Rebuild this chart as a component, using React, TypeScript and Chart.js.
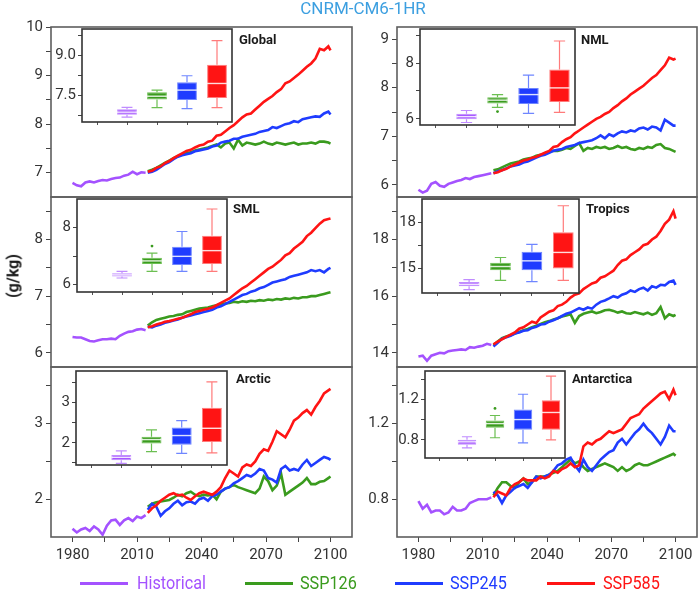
import React, { useEffect, useRef } from 'react';
import { Chart, registerables } from 'chart.js';
Chart.register(...registerables);

// ---------- categories / ticks ----------
const HIST_YEARS = [1980, 1982, 1984, 1986, 1988, 1990, 1992, 1994, 1996, 1998, 2000, 2002, 2004, 2006, 2008, 2010, 2012, 2014];
const SSP_YEARS = [2015, 2017, 2019, 2021, 2023, 2025, 2027, 2029, 2031, 2033, 2035, 2037, 2039, 2041, 2043, 2045, 2047, 2049, 2051, 2053, 2055, 2057, 2059, 2061, 2063, 2065, 2067, 2069, 2071, 2073, 2075, 2077, 2079, 2081, 2083, 2085, 2087, 2089, 2091, 2093, 2095, 2097, 2099, 2100];
const X_TICKS = [1980, 1995, 2010, 2025, 2040, 2055, 2070, 2085, 2100];
const X_LABELS = [1980, 2010, 2040, 2070, 2100];
const SERIES_NAMES = ['Historical', 'SSP126', 'SSP245', 'SSP585'];
const BOX_X = [1.5, 2.5, 3.5, 4.5];
const INSET_X_TICKS = [0.5, 1.5, 2.5, 3.5, 4.5];

// ---------- Global ----------
const GLOBAL_HIST = [6.79, 6.74, 6.72, 6.80, 6.82, 6.80, 6.83, 6.85, 6.84, 6.87, 6.89, 6.90, 6.94, 6.96, 7.02, 6.97, 7.01, 7.00];
const GLOBAL_126 = [7.03, 7.06, 7.10, 7.15, 7.20, 7.25, 7.30, 7.34, 7.38, 7.40, 7.42, 7.46, 7.48, 7.50, 7.52, 7.55, 7.58, 7.52, 7.60, 7.62, 7.50, 7.68, 7.56, 7.62, 7.60, 7.58, 7.60, 7.64, 7.60, 7.58, 7.62, 7.60, 7.58, 7.60, 7.62, 7.58, 7.60, 7.60, 7.62, 7.60, 7.64, 7.64, 7.62, 7.60];
const GLOBAL_245 = [7.00, 7.02, 7.06, 7.12, 7.18, 7.22, 7.28, 7.33, 7.36, 7.38, 7.40, 7.44, 7.46, 7.48, 7.50, 7.54, 7.56, 7.62, 7.64, 7.66, 7.70, 7.70, 7.74, 7.76, 7.78, 7.80, 7.84, 7.86, 7.88, 7.94, 7.92, 7.96, 8.00, 8.02, 8.06, 8.04, 8.10, 8.12, 8.14, 8.16, 8.15, 8.22, 8.26, 8.20];
const GLOBAL_585 = [7.02, 7.04, 7.10, 7.13, 7.20, 7.24, 7.30, 7.35, 7.40, 7.45, 7.47, 7.52, 7.56, 7.58, 7.64, 7.66, 7.76, 7.78, 7.85, 7.92, 7.98, 8.06, 8.14, 8.20, 8.22, 8.30, 8.38, 8.46, 8.52, 8.58, 8.66, 8.72, 8.84, 8.88, 8.95, 9.02, 9.10, 9.18, 9.25, 9.35, 9.55, 9.52, 9.60, 9.52];
const GLOBAL_BOX = [[6.68, 6.77, 6.87, 6.98, 7.05], [7.04, 7.35, 7.47, 7.62, 7.70], [7.00, 7.33, 7.70, 8.00, 8.24], [7.04, 7.40, 7.95, 8.65, 9.56]];
const GLOBAL_OUTLIERS: number[][] = [];
const GLOBAL_Y_TICKS = [7, 7.5, 8, 8.5, 9, 9.5, 10];
const GLOBAL_Y_LABELS = [7, 8, 9, 10];
const GLOBAL_INSET_TICKS = [6.75, 7.5, 8.25, 9.0, 9.75];
const GLOBAL_INSET_LABELS = [7.5, 9.0];

// ---------- NML ----------
const NML_HIST = [5.90, 5.84, 5.88, 6.02, 6.06, 5.98, 5.96, 6.02, 6.05, 6.08, 6.10, 6.14, 6.12, 6.16, 6.18, 6.20, 6.22, 6.24];
const NML_126 = [6.30, 6.32, 6.36, 6.40, 6.44, 6.46, 6.48, 6.52, 6.54, 6.56, 6.60, 6.62, 6.64, 6.68, 6.70, 6.70, 6.72, 6.76, 6.74, 6.80, 6.86, 6.70, 6.76, 6.74, 6.78, 6.76, 6.78, 6.74, 6.76, 6.80, 6.76, 6.78, 6.74, 6.72, 6.76, 6.74, 6.78, 6.76, 6.82, 6.84, 6.76, 6.74, 6.70, 6.68];
const NML_245 = [6.24, 6.28, 6.30, 6.34, 6.38, 6.40, 6.42, 6.46, 6.48, 6.52, 6.56, 6.60, 6.62, 6.66, 6.70, 6.72, 6.74, 6.78, 6.80, 6.82, 6.86, 6.88, 6.90, 6.92, 6.96, 7.02, 6.96, 7.04, 7.00, 7.06, 7.10, 7.08, 7.12, 7.10, 7.16, 7.18, 7.14, 7.20, 7.18, 7.12, 7.34, 7.28, 7.22, 7.22];
const NML_585 = [6.24, 6.26, 6.30, 6.33, 6.38, 6.42, 6.46, 6.50, 6.52, 6.56, 6.58, 6.62, 6.66, 6.70, 6.78, 6.80, 6.88, 6.94, 6.98, 7.06, 7.12, 7.18, 7.24, 7.30, 7.36, 7.40, 7.46, 7.50, 7.58, 7.64, 7.72, 7.78, 7.86, 7.92, 7.98, 8.04, 8.12, 8.20, 8.26, 8.36, 8.46, 8.62, 8.58, 8.60];
const NML_BOX = [[5.87, 5.99, 6.08, 6.18, 6.30], [6.41, 6.55, 6.67, 6.77, 6.87], [6.20, 6.53, 6.87, 7.11, 7.57], [6.23, 6.60, 7.11, 7.77, 8.79]];
const NML_OUTLIERS = [[1, 6.26]];
const NML_Y_TICKS = [6, 6.5, 7, 7.5, 8, 8.5, 9];
const NML_Y_LABELS = [6, 7, 8, 9];
const NML_INSET_TICKS = [6, 7, 8, 9];
const NML_INSET_LABELS = [6, 8];

// ---------- SML ----------
const SML_HIST = [6.28, 6.27, 6.27, 6.24, 6.21, 6.20, 6.22, 6.24, 6.24, 6.25, 6.24, 6.30, 6.34, 6.37, 6.38, 6.41, 6.42, 6.40];
const SML_126 = [6.48, 6.54, 6.58, 6.60, 6.62, 6.64, 6.65, 6.67, 6.68, 6.72, 6.74, 6.76, 6.78, 6.79, 6.80, 6.82, 6.84, 6.86, 6.87, 6.88, 6.90, 6.89, 6.91, 6.90, 6.92, 6.91, 6.93, 6.92, 6.94, 6.93, 6.95, 6.94, 6.96, 6.95, 6.97, 6.96, 6.98, 6.98, 7.00, 7.00, 7.02, 7.04, 7.06, 7.07];
const SML_245 = [6.46, 6.45, 6.48, 6.50, 6.53, 6.55, 6.57, 6.59, 6.62, 6.64, 6.66, 6.68, 6.70, 6.72, 6.74, 6.76, 6.80, 6.82, 6.86, 6.90, 6.94, 6.98, 7.02, 7.04, 7.08, 7.10, 7.14, 7.16, 7.20, 7.24, 7.26, 7.28, 7.30, 7.34, 7.36, 7.38, 7.40, 7.42, 7.46, 7.44, 7.46, 7.42, 7.48, 7.50];
const SML_585 = [6.45, 6.47, 6.50, 6.52, 6.55, 6.56, 6.58, 6.60, 6.62, 6.65, 6.68, 6.72, 6.74, 6.76, 6.78, 6.80, 6.84, 6.88, 6.92, 6.96, 7.02, 7.08, 7.14, 7.18, 7.24, 7.30, 7.36, 7.42, 7.48, 7.52, 7.58, 7.64, 7.72, 7.76, 7.84, 7.90, 7.96, 8.06, 8.12, 8.20, 8.28, 8.34, 8.36, 8.37];
const SML_BOX = [[6.23, 6.28, 6.34, 6.40, 6.46], [6.46, 6.72, 6.83, 6.94, 7.10], [6.46, 6.69, 6.99, 7.33, 7.86], [6.46, 6.72, 7.19, 7.71, 8.65]];
const SML_OUTLIERS = [[1, 7.35]];
const SML_Y_TICKS = [6, 6.5, 7, 7.5, 8, 8.5];
const SML_Y_LABELS = [6, 7, 8];
const SML_INSET_TICKS = [6, 7, 8];
const SML_INSET_LABELS = [6, 8];

// ---------- Tropics ----------
const TROP_HIST = [13.87, 13.90, 13.72, 13.90, 13.95, 14.00, 13.98, 14.06, 14.08, 14.10, 14.12, 14.10, 14.20, 14.18, 14.22, 14.25, 14.32, 14.28];
const TROP_126 = [14.28, 14.40, 14.52, 14.58, 14.62, 14.68, 14.74, 14.80, 14.84, 14.90, 14.96, 15.02, 15.08, 15.12, 15.18, 15.22, 15.28, 15.32, 15.36, 15.06, 15.30, 15.38, 15.42, 15.46, 15.40, 15.44, 15.50, 15.52, 15.48, 15.42, 15.46, 15.40, 15.38, 15.44, 15.40, 15.36, 15.42, 15.34, 15.40, 15.62, 15.22, 15.36, 15.30, 15.34];
const TROP_245 = [14.22, 14.35, 14.50, 14.55, 14.60, 14.68, 14.72, 14.78, 14.80, 14.88, 14.92, 15.00, 15.02, 15.10, 15.15, 15.22, 15.30, 15.38, 15.42, 15.50, 15.58, 15.52, 15.60, 15.56, 15.70, 15.80, 15.85, 15.92, 16.00, 15.95, 16.05, 16.10, 16.20, 16.15, 16.25, 16.30, 16.20, 16.35, 16.30, 16.40, 16.38, 16.50, 16.55, 16.40];
const TROP_585 = [14.30, 14.40, 14.48, 14.56, 14.64, 14.72, 14.85, 14.90, 15.00, 15.10, 15.05, 15.25, 15.35, 15.45, 15.50, 15.65, 15.70, 15.80, 15.95, 16.05, 16.10, 16.25, 16.35, 16.45, 16.50, 16.65, 16.70, 16.80, 16.90, 17.10, 17.25, 17.30, 17.45, 17.55, 17.65, 17.80, 17.85, 18.00, 18.10, 18.30, 18.55, 18.70, 19.00, 18.74];
const TROP_BOX = [[13.62, 13.84, 13.97, 14.12, 14.28], [14.23, 14.89, 15.13, 15.37, 15.72], [14.14, 14.89, 15.50, 16.09, 16.58], [14.23, 15.00, 16.05, 17.37, 19.10]];
const TROP_OUTLIERS: number[][] = [];
const TROP_Y_TICKS = [14, 15, 16, 17, 18, 19];
const TROP_Y_LABELS = [14, 16, 18];
const TROP_INSET_TICKS = [15, 16.5, 18];
const TROP_INSET_LABELS = [15, 18];

// ---------- Arctic ----------
const ARC_HIST = [1.61, 1.56, 1.60, 1.62, 1.58, 1.64, 1.60, 1.53, 1.65, 1.72, 1.73, 1.66, 1.72, 1.75, 1.71, 1.77, 1.75, 1.79];
const ARC_126 = [1.90, 1.94, 1.96, 1.97, 1.98, 1.99, 2.02, 2.06, 2.04, 2.08, 2.10, 2.06, 2.04, 2.06, 2.05, 2.06, 2.00, 2.10, 2.14, 2.16, 2.19, 2.16, 2.14, 2.12, 2.10, 2.08, 2.14, 2.30, 2.24, 2.12, 2.18, 2.34, 2.06, 2.10, 2.14, 2.18, 2.22, 2.28, 2.20, 2.20, 2.23, 2.24, 2.28, 2.30];
const ARC_245 = [1.86, 1.94, 1.90, 1.78, 1.84, 1.88, 1.94, 1.98, 1.92, 1.96, 1.97, 1.94, 2.00, 2.02, 1.98, 2.04, 2.06, 2.10, 2.14, 2.16, 2.21, 2.24, 2.28, 2.32, 2.30, 2.34, 2.40, 2.38, 2.28, 2.26, 2.22, 2.40, 2.44, 2.38, 2.40, 2.38, 2.46, 2.52, 2.44, 2.48, 2.52, 2.56, 2.54, 2.52];
const ARC_585 = [1.82, 1.88, 1.92, 1.98, 2.02, 2.06, 2.08, 2.05, 2.06, 2.02, 1.99, 2.04, 2.08, 2.10, 2.08, 2.06, 2.10, 2.16, 2.28, 2.38, 2.34, 2.30, 2.42, 2.46, 2.44, 2.50, 2.60, 2.66, 2.64, 2.76, 2.90, 2.86, 2.82, 2.92, 3.04, 3.08, 3.14, 3.18, 3.12, 3.22, 3.30, 3.40, 3.44, 3.46];
const ARC_BOX = [[1.49, 1.57, 1.64, 1.70, 1.80], [1.78, 1.98, 2.08, 2.15, 2.32], [1.74, 1.95, 2.18, 2.38, 2.55], [1.75, 2.02, 2.36, 2.87, 3.51]];
const ARC_OUTLIERS: number[][] = [];
const ARC_Y_TICKS = [2, 2.5, 3, 3.5];
const ARC_Y_LABELS = [2, 3];
const ARC_INSET_TICKS = [1.5, 2, 2.5, 3, 3.5];
const ARC_INSET_LABELS = [2, 3];

// ---------- Antarctica ----------
const ANT_HIST = [0.79, 0.75, 0.77, 0.73, 0.74, 0.74, 0.72, 0.73, 0.76, 0.74, 0.74, 0.75, 0.78, 0.79, 0.80, 0.80, 0.80, 0.81];
const ANT_126 = [0.82, 0.86, 0.89, 0.89, 0.87, 0.86, 0.89, 0.91, 0.88, 0.89, 0.92, 0.92, 0.92, 0.93, 0.94, 0.95, 0.97, 0.99, 1.01, 0.99, 1.00, 0.97, 0.95, 0.96, 0.97, 0.98, 0.99, 0.98, 0.97, 0.95, 0.97, 0.95, 0.96, 0.98, 0.99, 0.98, 0.98, 0.99, 1.00, 1.01, 1.02, 1.03, 1.04, 1.03];
const ANT_245 = [0.84, 0.82, 0.78, 0.82, 0.84, 0.86, 0.87, 0.88, 0.86, 0.89, 0.92, 0.91, 0.92, 0.93, 0.95, 0.98, 0.99, 1.01, 1.02, 0.98, 0.95, 1.01, 0.97, 0.95, 0.98, 1.01, 1.03, 1.05, 1.06, 1.10, 1.12, 1.09, 1.12, 1.15, 1.17, 1.20, 1.17, 1.15, 1.12, 1.09, 1.13, 1.19, 1.16, 1.16];
const ANT_585 = [0.81, 0.84, 0.83, 0.82, 0.86, 0.88, 0.89, 0.91, 0.90, 0.90, 0.90, 0.92, 0.91, 0.92, 0.95, 0.94, 0.96, 0.97, 0.99, 0.97, 0.98, 1.08, 1.10, 1.09, 1.11, 1.12, 1.14, 1.16, 1.15, 1.16, 1.17, 1.20, 1.23, 1.24, 1.25, 1.28, 1.30, 1.32, 1.34, 1.36, 1.37, 1.33, 1.38, 1.35];
const ANT_BOX = [[0.72, 0.75, 0.78, 0.80, 0.83], [0.82, 0.92, 0.96, 0.99, 1.04], [0.77, 0.90, 1.00, 1.10, 1.25], [0.80, 0.90, 1.07, 1.19, 1.43]];
const ANT_OUTLIERS = [[1, 1.11]];
const ANT_Y_TICKS = [0.8, 1.0, 1.2, 1.4];
const ANT_Y_LABELS = [0.8, 1.2];
const ANT_INSET_TICKS = [0.8, 1.0, 1.2, 1.4];
const ANT_INSET_LABELS = [0.8, 1.2];

// ---------- styling / layout ----------
const COLORS = ['#a452ff', '#3a9b1e', '#1f3cff', '#ff1414'];
const LIGHT = ['#c08cff', '#6cbf52', '#6f86ff', '#ff7b7b'];
const COLS = [{ left: 51, width: 301 }, { left: 397, width: 300 }];
const ROWS = [27, 197, 367];
const ROW_H = 170;
const Y_W = 45;
const PAD_T = 14;
const TICK_FONT = { family: 'Roboto', size: 15 };

const PANELS = [
  { name: 'Global', col: 0, row: 0, yMin: 6.5, yMax: 10, yTicks: GLOBAL_Y_TICKS, yLabels: GLOBAL_Y_LABELS, dec: 0,
    series: [GLOBAL_HIST, GLOBAL_126, GLOBAL_245, GLOBAL_585], box: GLOBAL_BOX, outliers: GLOBAL_OUTLIERS,
    inset: { l: 82, t: 29, r: 232, b: 122, min: 6.5, max: 10, ticks: GLOBAL_INSET_TICKS, labels: GLOBAL_INSET_LABELS, dec: 1 },
    lab: { x: 239, y: 40 } },
  { name: 'NML', col: 1, row: 0, yMin: 5.75, yMax: 9.25, yTicks: NML_Y_TICKS, yLabels: NML_Y_LABELS, dec: 0,
    series: [NML_HIST, NML_126, NML_245, NML_585], box: NML_BOX, outliers: NML_OUTLIERS,
    inset: { l: 420, t: 29, r: 576, b: 125, min: 5.78, max: 9.22, ticks: NML_INSET_TICKS, labels: NML_INSET_LABELS, dec: 0 },
    lab: { x: 581, y: 40 } },
  { name: 'SML', col: 0, row: 1, yMin: 5.75, yMax: 8.75, yTicks: SML_Y_TICKS, yLabels: SML_Y_LABELS, dec: 0,
    series: [SML_HIST, SML_126, SML_245, SML_585], box: SML_BOX, outliers: SML_OUTLIERS,
    inset: { l: 77, t: 199, r: 228, b: 292, min: 5.74, max: 9.0, ticks: SML_INSET_TICKS, labels: SML_INSET_LABELS, dec: 0 },
    lab: { x: 233, y: 209 } },
  { name: 'Tropics', col: 1, row: 1, yMin: 13.5, yMax: 19.5, yTicks: TROP_Y_TICKS, yLabels: TROP_Y_LABELS, dec: 0,
    series: [TROP_HIST, TROP_126, TROP_245, TROP_585], box: TROP_BOX, outliers: TROP_OUTLIERS,
    inset: { l: 422, t: 199, r: 579, b: 293, min: 13.4, max: 19.54, ticks: TROP_INSET_TICKS, labels: TROP_INSET_LABELS, dec: 0 },
    lab: { x: 586, y: 209 } },
  { name: 'Arctic', col: 0, row: 2, yMin: 1.5, yMax: 3.75, yTicks: ARC_Y_TICKS, yLabels: ARC_Y_LABELS, dec: 0,
    series: [ARC_HIST, ARC_126, ARC_245, ARC_585], box: ARC_BOX, outliers: ARC_OUTLIERS,
    inset: { l: 76, t: 371, r: 227, b: 465, min: 1.45, max: 3.78, ticks: ARC_INSET_TICKS, labels: ARC_INSET_LABELS, dec: 0 },
    lab: { x: 236, y: 379 } },
  { name: 'Antarctica', col: 1, row: 2, yMin: 0.6, yMax: 1.5, yTicks: ANT_Y_TICKS, yLabels: ANT_Y_LABELS, dec: 1,
    series: [ANT_HIST, ANT_126, ANT_245, ANT_585], box: ANT_BOX, outliers: ANT_OUTLIERS,
    inset: { l: 425, t: 371, r: 566, b: 458, min: 0.62, max: 1.48, ticks: ANT_INSET_TICKS, labels: ANT_INSET_LABELS, dec: 1 },
    lab: { x: 572, y: 379 } },
];

const has = (arr: number[], v: number) => arr.some((a) => Math.abs(a - v) < 1e-9);

const framePlugin = (color: string, width: number) => ({
  id: 'frame',
  afterDraw(chart: any) {
    const { ctx, chartArea: a } = chart;
    ctx.save();
    ctx.strokeStyle = color;
    ctx.lineWidth = width;
    ctx.strokeRect(a.left, a.top, a.right - a.left, a.bottom - a.top);
    ctx.restore();
  },
});

const bgPlugin = {
  id: 'bg',
  beforeDraw(chart: any) {
    const { ctx, chartArea: a } = chart;
    ctx.save();
    ctx.fillStyle = '#ffffff';
    ctx.fillRect(a.left, a.top, a.right - a.left, a.bottom - a.top);
    ctx.restore();
  },
};

function mainGeom(p: any) {
  const c = COLS[p.col];
  const xh = p.row === 2 ? 32 : 14;
  return { x: c.left - Y_W, y: ROWS[p.row] - PAD_T, w: Y_W + c.width + 4, h: PAD_T + ROW_H + xh, xh };
}

function mainConfig(p: any) {
  const g = mainGeom(p);
  const showX = p.row === 2;
  const mk = (i: number, years: number[], vals: number[], order: number) => ({
    label: SERIES_NAMES[i],
    data: years.map((x, k) => ({ x, y: vals[k] })),
    borderColor: COLORS[i],
    backgroundColor: COLORS[i],
    borderWidth: 2.6,
    pointRadius: 0,
    tension: 0,
    fill: false,
    order,
  });
  return {
    type: 'line',
    data: {
      datasets: [
        mk(3, SSP_YEARS, p.series[3], 0),
        mk(2, SSP_YEARS, p.series[2], 1),
        mk(1, SSP_YEARS, p.series[1], 2),
        mk(0, HIST_YEARS, p.series[0], 3),
      ],
    },
    options: {
      animation: false,
      responsive: false,
      devicePixelRatio: 1,
      layout: { padding: { top: PAD_T, right: 4, left: 0, bottom: 0 } },
      plugins: { legend: { display: false }, tooltip: { enabled: false }, title: { display: false } },
      scales: {
        x: {
          type: 'linear', min: 1970, max: 2110,
          afterBuildTicks: (s: any) => { s.ticks = X_TICKS.map((v) => ({ value: v })); },
          afterFit: (s: any) => { s.height = g.xh; },
          ticks: {
            display: showX, autoSkip: false, maxRotation: 0, minRotation: 0, padding: 4,
            font: TICK_FONT, color: '#333',
            callback: (v: number) => (has(X_LABELS, v) ? String(v) : ''),
          },
          grid: { display: true, drawOnChartArea: false, drawTicks: showX, tickLength: 5, color: '#444' },
          border: { display: false },
        },
        y: {
          type: 'linear', min: p.yMin, max: p.yMax,
          afterBuildTicks: (s: any) => { s.ticks = p.yTicks.map((v: number) => ({ value: v })); },
          afterFit: (s: any) => { s.width = Y_W; },
          ticks: {
            padding: 3, font: TICK_FONT, color: '#333',
            callback: (v: number) => (has(p.yLabels, v) ? Number(v).toFixed(p.dec) : ''),
          },
          grid: { display: true, drawOnChartArea: false, drawTicks: true, tickLength: 5, color: '#444' },
          border: { display: false },
        },
      },
    },
    plugins: [framePlugin('#5e5e5e', 1.6)],
  };
}

const IN_YW = 34;
const IN_PT = 14;
const IN_XH = 14;

function insetGeom(p: any) {
  const s = p.inset;
  return { x: s.l - IN_YW, y: s.t - IN_PT, w: IN_YW + (s.r - s.l) + 3, h: IN_PT + (s.b - s.t) + IN_XH };
}

function insetConfig(p: any) {
  const s = p.inset;
  const whiskers = {
    id: 'whiskers',
    afterDatasetsDraw(chart: any) {
      const { ctx } = chart;
      const xs = chart.scales.x;
      const ys = chart.scales.y;
      const meta = chart.getDatasetMeta(0);
      ctx.save();
      p.box.forEach((b: number[], i: number) => {
        const cx = xs.getPixelForValue(BOX_X[i]);
        const half = (meta.data[i] ? meta.data[i].width : 20) / 2;
        const cap = half * 0.55;
        ctx.strokeStyle = LIGHT[i];
        ctx.lineWidth = 1.2;
        ctx.beginPath();
        ctx.moveTo(cx, ys.getPixelForValue(b[0]));
        ctx.lineTo(cx, ys.getPixelForValue(b[1]));
        ctx.moveTo(cx, ys.getPixelForValue(b[3]));
        ctx.lineTo(cx, ys.getPixelForValue(b[4]));
        ctx.moveTo(cx - cap, ys.getPixelForValue(b[0]));
        ctx.lineTo(cx + cap, ys.getPixelForValue(b[0]));
        ctx.moveTo(cx - cap, ys.getPixelForValue(b[4]));
        ctx.lineTo(cx + cap, ys.getPixelForValue(b[4]));
        ctx.stroke();
        ctx.strokeStyle = 'rgba(255,255,255,0.85)';
        ctx.lineWidth = 1.4;
        ctx.beginPath();
        ctx.moveTo(cx - half, ys.getPixelForValue(b[2]));
        ctx.lineTo(cx + half, ys.getPixelForValue(b[2]));
        ctx.stroke();
      });
      ctx.restore();
    },
  };
  return {
    type: 'bar',
    data: {
      datasets: [
        {
          type: 'bar',
          label: 'box',
          data: BOX_X.map((x, i) => ({ x, y: [p.box[i][1], p.box[i][3]] })),
          backgroundColor: COLORS,
          borderColor: LIGHT,
          borderWidth: 1,
          borderSkipped: false,
          barPercentage: 0.66,
          categoryPercentage: 1,
          grouped: false,
        },
        {
          type: 'scatter',
          label: 'outliers',
          data: p.outliers.map((o: number[]) => ({ x: BOX_X[o[0]], y: o[1] })),
          pointRadius: 1.4,
          pointBackgroundColor: COLORS[1],
          pointBorderWidth: 0,
        },
      ],
    },
    options: {
      animation: false,
      responsive: false,
      devicePixelRatio: 1,
      layout: { padding: { top: IN_PT, right: 3, left: 0, bottom: 0 } },
      plugins: { legend: { display: false }, tooltip: { enabled: false } },
      scales: {
        x: {
          type: 'linear', min: 0, max: 5, offset: false,
          afterBuildTicks: (sc: any) => { sc.ticks = INSET_X_TICKS.map((v) => ({ value: v })); },
          afterFit: (sc: any) => { sc.height = IN_XH; },
          ticks: { display: false },
          grid: { offset: false, display: true, drawOnChartArea: false, drawTicks: true, tickLength: 3, color: '#555' },
          border: { display: false },
        },
        y: {
          type: 'linear', min: s.min, max: s.max,
          afterBuildTicks: (sc: any) => { sc.ticks = s.ticks.map((v: number) => ({ value: v })); },
          afterFit: (sc: any) => { sc.width = IN_YW; },
          ticks: {
            padding: 2, font: TICK_FONT, color: '#333',
            callback: (v: number) => (has(s.labels, v) ? Number(v).toFixed(s.dec) : ''),
          },
          grid: { display: true, drawOnChartArea: false, drawTicks: true, tickLength: 4, color: '#444' },
          border: { display: false },
        },
      },
    },
    plugins: [bgPlugin, whiskers, framePlugin('#333333', 1.6)],
  };
}

function ChartCanvas({ geom, make }: { geom: any; make: () => any }) {
  const ref = useRef<HTMLCanvasElement | null>(null);
  useEffect(() => {
    if (!ref.current) return;
    const chart = new Chart(ref.current, make());
    return () => chart.destroy();
  }, []);
  return (
    <canvas
      ref={ref}
      width={geom.w}
      height={geom.h}
      style={{ position: 'absolute', left: geom.x, top: geom.y, width: geom.w, height: geom.h }}
    />
  );
}

const LEGEND_POS = [
  { line: 80, text: 137 },
  { line: 245, text: 300 },
  { line: 395, text: 450 },
  { line: 547, text: 603 },
];

export default function App() {
  return (
    <div style={{ position: 'absolute', left: 0, top: 0, width: 700, height: 591, background: '#fff', fontFamily: 'Roboto, sans-serif', overflow: 'hidden' }}>
      {PANELS.map((p) => (
        <ChartCanvas key={'m' + p.name} geom={mainGeom(p)} make={() => mainConfig(p)} />
      ))}
      {PANELS.map((p) => (
        <ChartCanvas key={'i' + p.name} geom={insetGeom(p)} make={() => insetConfig(p)} />
      ))}
      {PANELS.map((p) => (
        <div key={'l' + p.name} style={{ position: 'absolute', left: p.lab.x, top: p.lab.y - 8, lineHeight: '16px', fontSize: 13, fontWeight: 700, color: '#1a1a1a', whiteSpace: 'nowrap' }}>
          {p.name}
        </div>
      ))}
      <div style={{ position: 'absolute', left: 300, top: 0, width: 126, textAlign: 'center', lineHeight: '16px', fontSize: 17, color: '#3c9fe0', whiteSpace: 'nowrap' }}>
        CNRM-CM6-1HR
      </div>
      <div style={{ position: 'absolute', left: 13, top: 276, transform: 'translate(-50%, -50%) rotate(-90deg)', fontSize: 16, fontWeight: 700, color: '#1a1a1a', whiteSpace: 'nowrap' }}>
        (g/kg)
      </div>
      {SERIES_NAMES.map((n, i) => (
        <React.Fragment key={'lg' + n}>
          <div style={{ position: 'absolute', left: LEGEND_POS[i].line, top: 582, width: 48, height: 3, background: COLORS[i] }} />
          <div style={{ position: 'absolute', left: LEGEND_POS[i].text, top: 573, lineHeight: '20px', fontSize: 18, color: COLORS[i], whiteSpace: 'nowrap', transform: 'scaleX(0.9)', transformOrigin: 'left center' }}>
            {n}
          </div>
        </React.Fragment>
      ))}
    </div>
  );
}
